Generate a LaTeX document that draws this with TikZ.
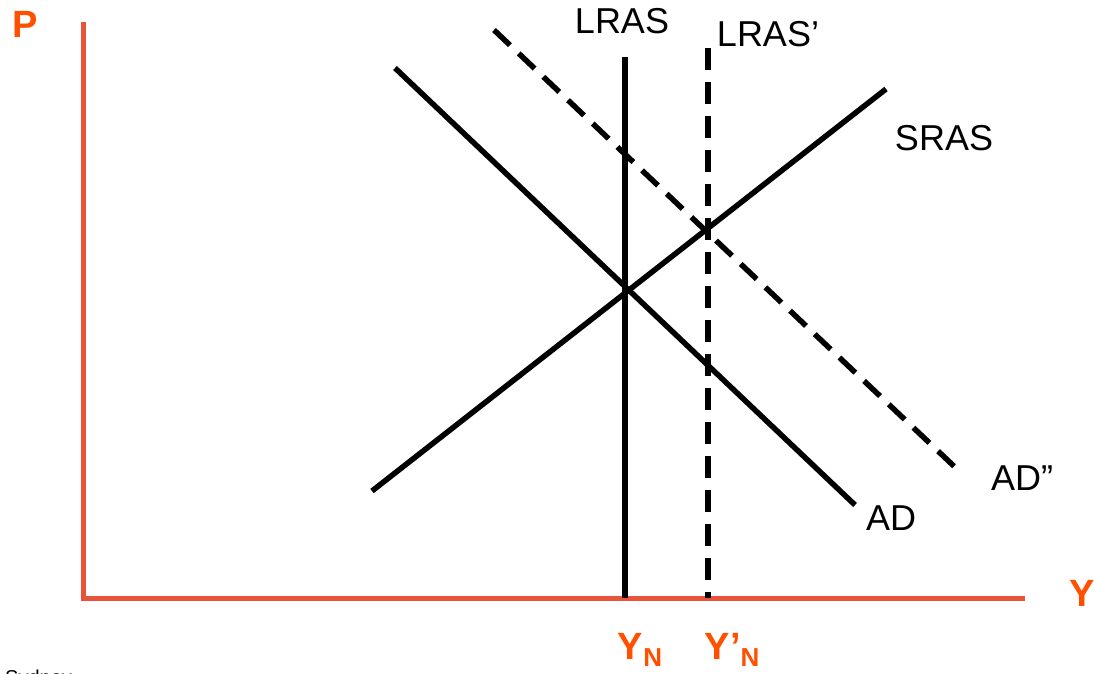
\documentclass[tikz,border=0pt]{standalone}
\usepackage{fontspec}
\setmainfont{Liberation Sans}
\begin{document}
\begin{tikzpicture}[x=1pt,y=-1pt,
  axis/.style={draw={rgb,255:red,232;green,83;blue,58},line width=5pt},
  curve/.style={draw=black,line width=5.5pt},
  dashcurve/.style={curve,dash pattern=on 22pt off 12pt},
  lbl/.style={font=\fontsize{36}{42}\selectfont,inner sep=0pt},
  axlbl/.style={font=\fontsize{38}{44}\selectfont\bfseries,text={rgb,255:red,255;green,80;blue,0},inner sep=0pt}]
\useasboundingbox (0,0) rectangle (1094,674);
\coordinate (o) at (83,598);
\coordinate (ytop) at (83,22);
\coordinate (xend) at (1025,598);
\draw[axis] (ytop) -- (o) -- (xend);
\node[axlbl] (p) at (25,24) {P};
\node[axlbl] (y) at (1082,593) {Y};
% LRAS
\coordinate (l1) at (625,57); \coordinate (l2) at (625,598);
\draw[curve] (l1) -- (l2);
\coordinate (m1) at (708,48); \coordinate (m2) at (708,598);
\draw[dashcurve] (m1) -- (m2);
% AD
\coordinate (a1) at (395,68); \coordinate (a2) at (855,505);
\draw[curve] (a1) -- (a2);
% SRAS
\coordinate (s1) at (372,491); \coordinate (s2) at (886,89);
\draw[curve] (s1) -- (s2);
% AD''
\coordinate (d1) at (494,30); \coordinate (d2) at (958,470);
\draw[dashcurve] (d1) -- (d2);
% labels
\node[lbl] (tl) at (622,21) {LRAS};
\node[lbl] (tlp) at (768,34) {LRAS’};
\node[lbl] (ts) at (944,138) {SRAS};
\node[lbl] (tadd) at (1022,478) {AD”};
\node[lbl] (tad) at (891,518) {AD};
\node[axlbl,anchor=base] (yn) at (640,659) {Y\raisebox{-7pt}{\fontsize{26}{30}\selectfont N}};
\node[axlbl,anchor=base] (ynp) at (732,659) {Y’\raisebox{-7pt}{\fontsize{26}{30}\selectfont N}};
\node[font=\fontsize{20}{24}\selectfont,anchor=base west,inner sep=0pt] (syd) at (5,684) {Sydney};
\end{tikzpicture}
\end{document}
